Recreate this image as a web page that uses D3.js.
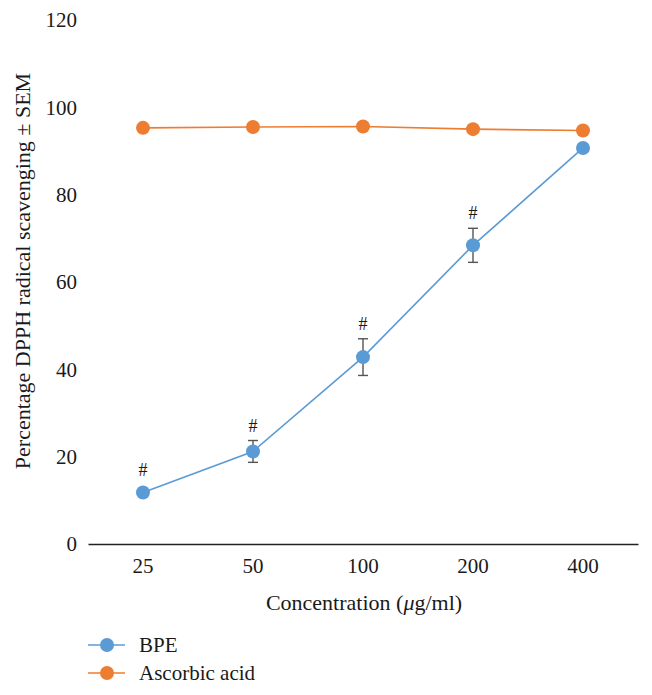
<!DOCTYPE html>
<html>
<head>
<meta charset="utf-8">
<script src="https://cdn.jsdelivr.net/npm/d3@7"></script>
<style>
  body { margin: 0; background: #fff; }
  svg text { font-family: "Liberation Serif", "Times New Roman", serif; fill: #1a1a1a; }
</style>
</head>
<body>
<svg id="chart" width="652" height="695"></svg>
<script>
const categories = ["25", "50", "100", "200", "400"];
const bpeValues = [11.8, 21.2, 42.8, 68.4, 90.7];
const bpeErrors = [0.5, 2.5, 4.2, 3.9, 0];
const bpeSignificant = [true, true, true, true, false];
const ascorbicValues = [95.3, 95.5, 95.6, 95.0, 94.7];
const yTicks = [0, 20, 40, 60, 80, 100, 120];
const seriesNames = ["BPE", "Ascorbic acid"];
const colors = ["#5b9bd5", "#ed7d31"];

const svg = d3.select("#chart");
const margin = { left: 88, right: 14, top: 20, bottom: 151 };
const W = 652, H = 695;
const FS = 21;

const x = d3.scaleBand().domain(categories).range([margin.left, W - margin.right]);
const y = d3.scaleLinear().domain([0, 120]).range([H - margin.bottom, margin.top]);
const cx = d => x(d) + x.bandwidth() / 2;

// Y axis (labels only)
const yAxis = d3.axisLeft(y).tickValues(yTicks).tickSize(0).tickPadding(0);
const gy = svg.append("g").attr("transform", `translate(${margin.left - 11},0)`).call(yAxis);
gy.select(".domain").remove();
gy.selectAll("text").attr("font-size", FS).attr("font-family", "Liberation Serif").attr("fill", "#1a1a1a");

// X axis
const xAxis = d3.axisBottom(x).tickSize(0).tickPadding(14);
const gx = svg.append("g").attr("transform", `translate(0,${y(0)})`).call(xAxis);
gx.select(".domain").attr("stroke", "#222").attr("stroke-width", 1.5);
gx.selectAll("text").attr("font-size", FS).attr("font-family", "Liberation Serif").attr("fill", "#1a1a1a");

// Axis titles
svg.append("text")
  .attr("transform", `translate(30,271) rotate(-90)`)
  .attr("text-anchor", "middle")
  .attr("font-size", FS + 1)
  .text("Percentage DPPH radical scavenging ± SEM");

const xt = svg.append("text")
  .attr("x", (margin.left + W - margin.right) / 2 + 1)
  .attr("y", 610)
  .attr("text-anchor", "middle")
  .attr("font-size", FS + 1);
xt.append("tspan").text("Concentration (");
xt.append("tspan").attr("font-style", "italic").text("μ");
xt.append("tspan").text("g/ml)");

const line = d3.line().x((d, i) => cx(categories[i])).y(d => y(d));

// Ascorbic acid
svg.append("path").datum(ascorbicValues)
  .attr("d", line).attr("fill", "none").attr("stroke", colors[1]).attr("stroke-width", 1.6);
svg.append("g").selectAll("circle").data(ascorbicValues).join("circle")
  .attr("cx", (d, i) => cx(categories[i])).attr("cy", d => y(d)).attr("r", 7).attr("fill", colors[1]);

// BPE
svg.append("path").datum(bpeValues)
  .attr("d", line).attr("fill", "none").attr("stroke", colors[0]).attr("stroke-width", 1.6);

// error bars
const eb = svg.append("g").attr("stroke", "#555").attr("stroke-width", 1.4);
bpeValues.forEach((v, i) => {
  const e = bpeErrors[i];
  if (e <= 0) return;
  const px = cx(categories[i]);
  eb.append("line").attr("x1", px).attr("x2", px).attr("y1", y(v + e)).attr("y2", y(v - e));
  eb.append("line").attr("x1", px - 5).attr("x2", px + 5).attr("y1", y(v + e)).attr("y2", y(v + e));
  eb.append("line").attr("x1", px - 5).attr("x2", px + 5).attr("y1", y(v - e)).attr("y2", y(v - e));
});

svg.append("g").selectAll("circle").data(bpeValues).join("circle")
  .attr("cx", (d, i) => cx(categories[i])).attr("cy", d => y(d)).attr("r", 7).attr("fill", colors[0]);

// significance marks
svg.append("g").selectAll("text").data(bpeValues.map((v, i) => ({ v, i })).filter(d => bpeSignificant[d.i]))
  .join("text")
  .attr("x", d => cx(categories[d.i]))
  .attr("y", d => Math.min(y(d.v + bpeErrors[d.i]), y(d.v) - 7) - 9)
  .attr("text-anchor", "middle")
  .attr("font-size", 18)
  .text("#");

// Legend
const lg = svg.append("g");
seriesNames.forEach((name, i) => {
  const ly = 645 + i * 28;
  lg.append("line").attr("x1", 88).attr("x2", 125).attr("y1", ly).attr("y2", ly)
    .attr("stroke", colors[i]).attr("stroke-width", 1.6);
  lg.append("circle").attr("cx", 107).attr("cy", ly).attr("r", 7).attr("fill", colors[i]);
  lg.append("text").attr("x", 139).attr("y", ly + 7).attr("font-size", FS).text(name);
});
</script>
</body>
</html>
